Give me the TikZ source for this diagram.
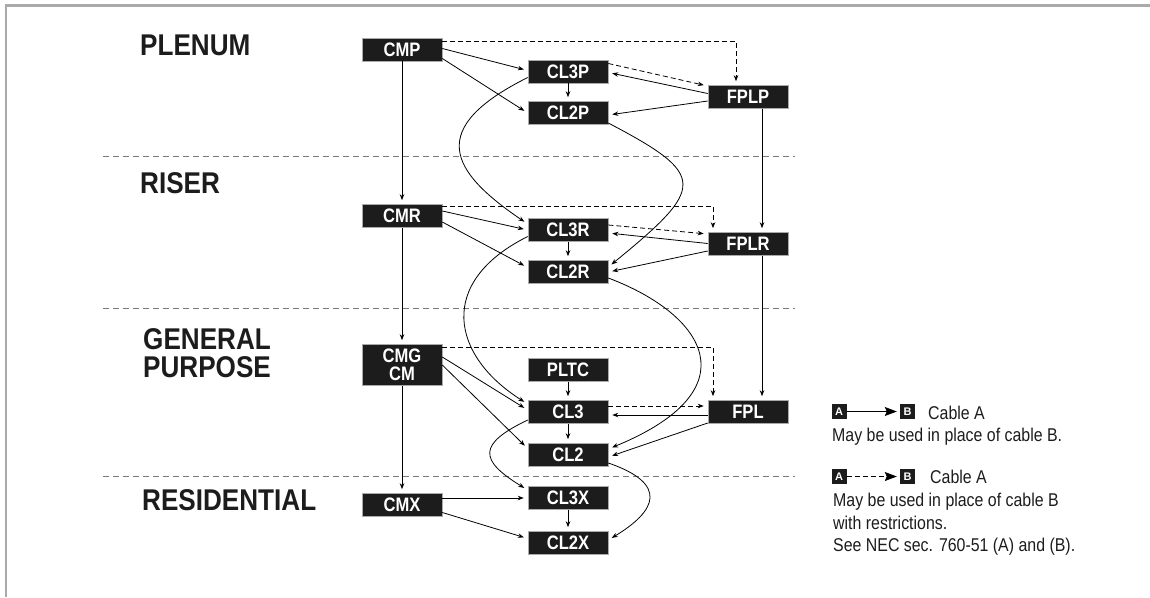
\documentclass[tikz,border=0pt]{standalone}
\usepackage{fontspec}
\setmainfont{Liberation Sans}
\newfontfamily\cablefont[FakeStretch=0.85]{Liberation Sans}
\newfontfamily\zonefont[FakeStretch=0.87]{Liberation Sans}
\newfontfamily\notefont[FakeStretch=0.86]{Liberation Sans}
\usetikzlibrary{arrows.meta}
\definecolor{NegroCaja}{RGB}{28,28,28}
\definecolor{GrisMarco}{RGB}{170,170,170}
\definecolor{GrisZona}{RGB}{120,120,120}

\begin{document}
\begin{tikzpicture}[x=1pt,y=-1pt,>={Stealth[length=6pt,width=4.5pt]},
  cable/.style={fill=NegroCaja,draw=GrisMarco,line width=0.6pt,text=white,
    minimum width=80pt,minimum height=23pt,inner sep=0pt,
    font=\cablefont\bfseries\fontsize{19.5}{17.5}\selectfont},
  zona/.style={anchor=base west,inner sep=0pt,text=NegroCaja,
    font=\zonefont\bfseries\fontsize{30}{28}\selectfont},
  nota/.style={anchor=base west,inner sep=0pt,text=NegroCaja,
    font=\notefont\fontsize{18.5}{23}\selectfont},
  letra/.style={fill=NegroCaja,text=white,minimum width=15pt,minimum height=15pt,
    inner sep=0pt,font=\bfseries\fontsize{11}{11}\selectfont},
  puede/.style={->,line width=0.8pt,shorten >=4pt},
  restr/.style={puede,dash pattern=on 5pt off 3pt},
  zonaraya/.style={GrisZona,line width=1pt,dash pattern=on 6pt off 4pt}]
  \useasboundingbox (0,0) rectangle (1150,597);
  \draw[GrisMarco,line width=2.5pt] (6,597) -- (6,5.5) -- (1150,5.5);

  % zonas
  \node[zona] (plenum) at (140,55.2) {PLENUM};
  \node[zona] (riser) at (140,193.4) {RISER};
  \node[zona] (general) at (143,349.6) {GENERAL};
  \node[zona] (purpose) at (143,377.8) {PURPOSE};
  \node[zona] (resid) at (142,510.3) {RESIDENTIAL};
  \draw[zonaraya] (103,156.7) -- (795,156.7);
  \draw[zonaraya] (103,308.3) -- (795,308.3);
  \draw[zonaraya] (103,476) -- (795,476);

  % cables
  \node[cable] (CMP) at (402,49.5) {CMP};
  \node[cable] (CL3P) at (568,71.5) {CL3P};
  \node[cable] (CL2P) at (568,113) {CL2P};
  \node[cable] (FPLP) at (748,97) {FPLP};
  \node[cable] (CMR) at (402,216) {CMR};
  \node[cable] (CL3R) at (568,230) {CL3R};
  \node[cable] (CL2R) at (568,272) {CL2R};
  \node[cable] (FPLR) at (748,244) {FPLR};
  \node[cable,minimum height=41pt,align=center] (CMG) at (402,365) {CMG\\CM};
  \node[cable] (PLTC) at (568,370) {PLTC};
  \node[cable] (CL3) at (568,412) {CL3};
  \node[cable] (FPL) at (748,412) {FPL};
  \node[cable] (CL2) at (568,455) {CL2};
  \node[cable] (CMX) at (402,505) {CMX};
  \node[cable] (CL3X) at (568,498) {CL3X};
  \node[cable] (CL2X) at (568,543) {CL2X};

  % plenum
  \draw[puede] (CMP.south) -- (CMR.north);
  \draw[puede] ([yshift=1pt]CMP.east) -- ([yshift=1pt]CL3P.west);
  \draw[puede] ([yshift=-9pt]CMP.east) -- (CL2P.west);
  \draw[restr] ([yshift=8.5pt]CMP.east) -| ([xshift=-12pt]FPLP.north);
  \draw[puede] (CL3P.south) -- (CL2P.north);
  \draw[restr] ([yshift=8pt]CL3P.east) -- ([yshift=11pt]FPLP.west);
  \draw[puede] ([yshift=3.5pt]FPLP.west) -- ([yshift=-1pt]CL3P.east);
  \draw[puede] ([yshift=-4pt]FPLP.west) -- ([yshift=-2pt]CL2P.east);
  \draw[puede] ([xshift=14pt]FPLP.south) -- ([xshift=14pt]FPLR.north);
  \draw[puede] ([yshift=-6pt]CL3P.west) .. controls +(-102,51) and +(-78,-53) .. ([yshift=6pt]CL3R.west);
  \draw[puede] ([yshift=-10pt]CL2P.east) .. controls +(99,52) and +(98,-80) .. ([yshift=5pt]CL2R.east);

  % riser
  \draw[puede] (CMR.south) -- (CMG.north);
  \draw[puede] ([yshift=5pt]CMR.east) -- (CL3R.west);
  \draw[puede] ([yshift=-6pt]CMR.east) -- ([yshift=4.5pt]CL2R.west);
  \draw[restr] ([yshift=10pt]CMR.east) -| ([xshift=-35pt]FPLR.north);
  \draw[puede] (CL3R.south) -- (CL2R.north);
  \draw[restr] ([yshift=5pt]CL3R.east) -- ([yshift=10pt]FPLR.west);
  \draw[puede] ([yshift=0.5pt]FPLR.west) -- ([yshift=-3pt]CL3R.east);
  \draw[puede] ([yshift=-7pt]FPLR.west) -- (CL2R.east);
  \draw[puede] ([xshift=14pt]FPLR.south) -- ([xshift=14pt]FPL.north);
  \draw[puede] ([yshift=-6.5pt]CL3R.west) .. controls +(-92,46) and +(-76,-48) .. ([yshift=8pt]CL3.west);
  \draw[puede] ([yshift=-6pt]CL2R.east) .. controls +(98,37) and +(144,-59) .. ([yshift=6pt]CL2.east);

  % general purpose
  \draw[puede] (CMG.south) -- (CMX.north);
  \draw[puede] ([yshift=8pt]CMG.east) -- ([yshift=2pt]CL3.west);
  \draw[puede] (CMG.east) -- ([yshift=6.5pt]CL2.west);
  \draw[restr] ([yshift=18pt]CMG.east) -| ([xshift=-35pt]FPL.north);
  \draw[puede] (PLTC.south) -- (CL3.north);
  \draw[puede] (CL3.south) -- (CL2.north);
  \draw[restr] ([yshift=6pt]CL3.east) -- ([yshift=6pt]FPL.west);
  \draw[puede] ([yshift=-3pt]FPL.west) -- ([yshift=-3pt]CL3.east);
  \draw[puede] ([yshift=-11pt]FPL.west) -- ([yshift=-2pt]CL2.east);
  \draw[puede] ([yshift=-8pt]CL3.west) .. controls +(-50,24) and +(-49,-30) .. ([yshift=8pt]CL3X.west);
  \draw[puede] ([yshift=-8pt]CL2.east) .. controls +(61,21) and +(48,-29) .. ([yshift=3pt]CL2X.east);

  % residential
  \draw[puede] ([yshift=7pt]CMX.east) -- (CL3X.west);
  \draw[puede] ([yshift=-7.5pt]CMX.east) -- ([yshift=4.5pt]CL2X.west);
  \draw[puede] (CL3X.south) -- (CL2X.north);

  % leyenda
  \node[letra] (A1) at (839,411.5) {A};
  \node[letra] (B1) at (907.5,411.5) {B};
  \draw[-{Stealth[length=12pt,width=9pt,inset=2pt]},line width=0.8pt,shorten >=3pt] (A1.east) -- (B1.west);
  \node[nota] (cab1) at (928,419) {Cable A};
  \node[nota] (txt1) at (832,441.7) {May be used in place of cable B.};
  \node[letra] (A2) at (839,476.5) {A};
  \node[letra] (B2) at (907.5,476.5) {B};
  \draw[-{Stealth[length=12pt,width=9pt,inset=2pt]},line width=0.8pt,shorten >=3pt,dash pattern=on 5pt off 3pt] (A2.east) -- (B2.west);
  \node[nota] (cab2) at (930,483.5) {Cable A};
  \node[nota] (txt2) at (833,506) {May be used in place of cable B};
  \node[nota] (txt3) at (833,529) {with restrictions.};
  \node[nota] (txt4) at (833,551.7) {See NEC sec. 760-51 (A) and (B).};
\end{tikzpicture}
\end{document}
